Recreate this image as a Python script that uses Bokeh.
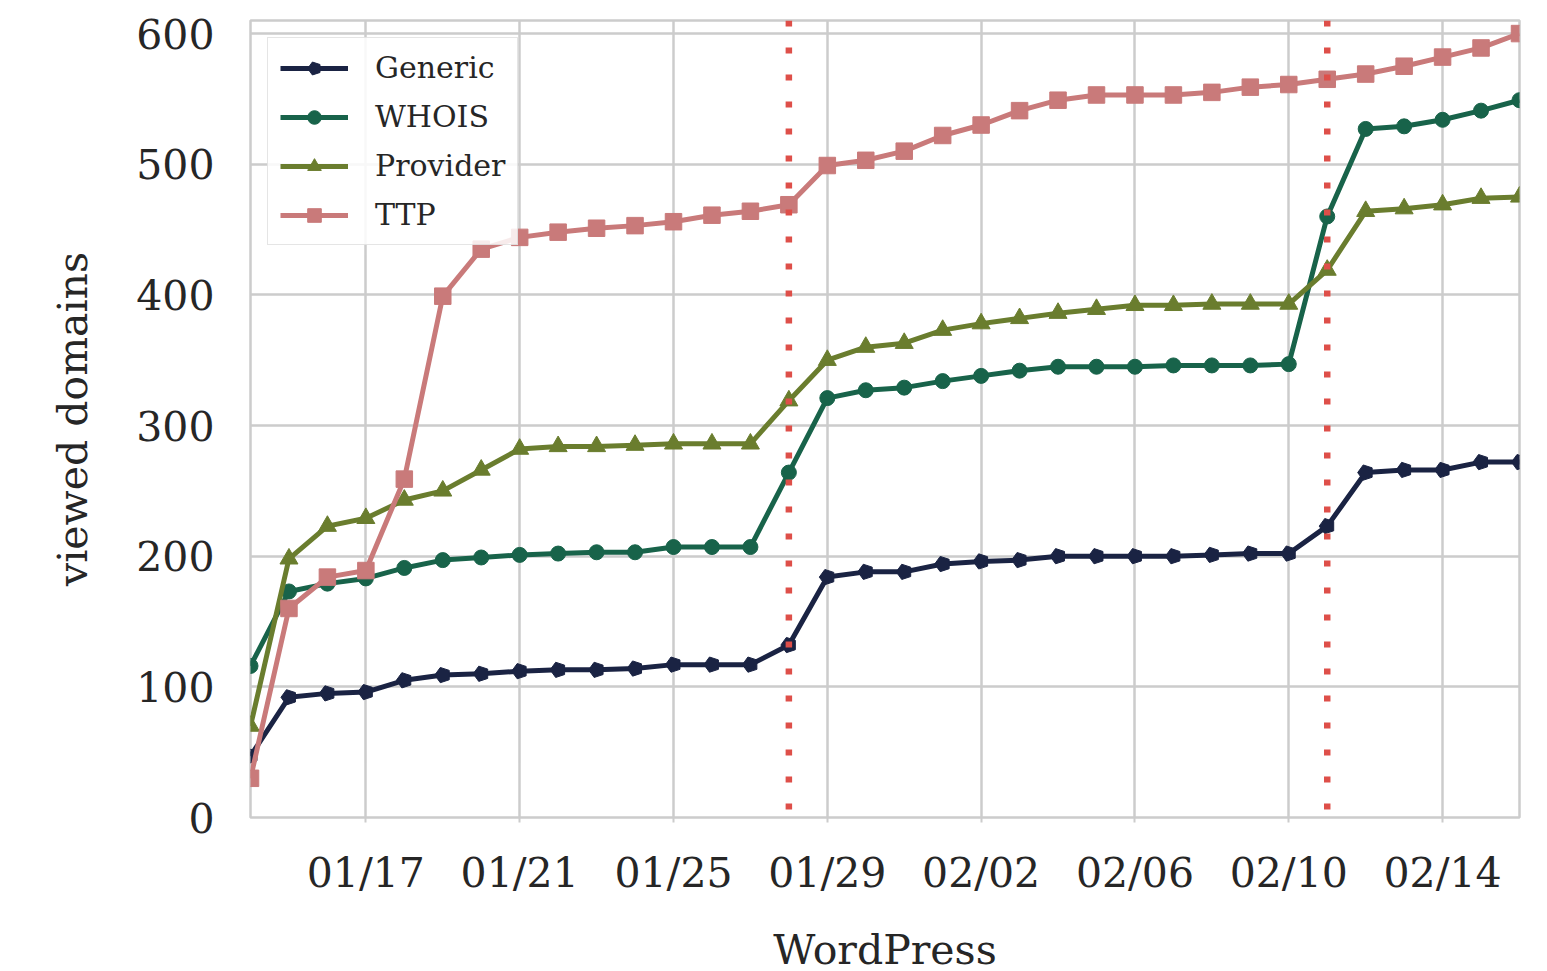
import pandas as pd
from bokeh.plotting import figure
from bokeh.models import Span, Legend, LegendItem, FixedTicker, DatetimeTickFormatter, Range1d, ColumnDataSource
from bokeh.embed import file_html
from bokeh.resources import INLINE

# ---- data ----
dates = pd.date_range("2019-01-14", "2019-02-16", freq="D")
generic = [47, 92, 95, 96, 105, 109, 110, 112, 113, 113, 114, 117, 117, 117, 132, 184, 188,
           188, 194, 196, 197, 200, 200, 200, 200, 201, 202, 202, 223, 264, 266, 266, 272, 272]
whois = [116, 173, 179, 183, 191, 197, 199, 201, 202, 203, 203, 207, 207, 207, 264, 321, 327,
         329, 334, 338, 342, 345, 345, 345, 346, 346, 346, 347, 460, 527, 529, 534, 541, 549]
provider = [70, 198, 223, 229, 243, 250, 266, 282, 284, 284, 285, 286, 286, 286, 319, 350, 360,
            363, 373, 378, 382, 386, 389, 392, 392, 393, 393, 393, 419, 464, 466, 469, 474, 475]
ttp = [30, 160, 184, 189, 259, 399, 435, 444, 448, 451, 453, 456, 461, 464, 469, 499, 503,
       510, 522, 530, 541, 549, 553, 553, 553, 555, 559, 561, 565, 569, 575, 582, 589, 600]
tick_dates = ["2019-01-17", "2019-01-21", "2019-01-25", "2019-01-29",
              "2019-02-02", "2019-02-06", "2019-02-10", "2019-02-14"]
tick_labels = ["01/17", "01/21", "01/25", "01/29", "02/02", "02/06", "02/10", "02/14"]
event_dates = ["2019-01-28", "2019-02-11"]
y_ticks = [0, 100, 200, 300, 400, 500, 600]

FONT = "DejaVu Serif"
TXT = "#262626"
GRID = "#cccccc"

def to_ms(d):
    return (pd.Timestamp(d) - pd.Timestamp("1970-01-01")) // pd.Timedelta("1ms")

p = figure(frame_width=1269, frame_height=797, x_axis_type="datetime",
           x_range=Range1d(dates[0], dates[-1]), y_range=Range1d(0, 610),
           output_backend="svg", toolbar_location=None,
           min_border_left=250, min_border_right=20, min_border_top=20, min_border_bottom=150,
           background_fill_color="white", border_fill_color="white")

p.outline_line_color = GRID
p.outline_line_width = 2.5

src = ColumnDataSource(dict(x=dates, generic=generic, whois=whois, provider=provider, ttp=ttp))

series = [
    ("Generic", "generic", "#1a2343", "pentagon", 0),
    ("WHOIS", "whois", "#18634a", "circle", 15),
    ("Provider", "provider", "#6a7d2e", "triangle", 18),
    ("TTP", "ttp", "#c97a7a", "square", 16.5),
]
items = []
for label, col, color, marker, msize in series:
    lr = p.line("x", col, source=src, line_color=color, line_width=5, line_join="round")
    if marker == "pentagon":
        mr = p.ngon(x="x", y=col, source=src, radius=8, radius_units="screen", n=5,
                    angle=1.5708, fill_color=color, line_color=color)
    else:
        mr = p.scatter("x", col, source=src, marker=marker, size=msize,
                       fill_color=color, line_color=color)
    items.append(LegendItem(label=label, renderers=[lr, mr]))

for d in event_dates:
    p.add_layout(Span(location=to_ms(d), dimension="height", line_color="#de4f49",
                      line_width=6.5, line_dash="6 21"))

legend = Legend(items=items, location="top_left", margin=17, padding=12, spacing=14,
                glyph_width=68, glyph_height=34, label_height=34, label_standoff=27,
                label_text_font=FONT, label_text_font_size="30px", label_text_color=TXT,
                border_line_color=GRID, border_line_width=1.5,
                background_fill_color="white", background_fill_alpha=0.85)
p.add_layout(legend)

# axes
p.xaxis.ticker = FixedTicker(ticks=[to_ms(d) for d in tick_dates])
p.xaxis.formatter = DatetimeTickFormatter(days="%m/%d", months="%m/%d", hours="%m/%d")
p.yaxis.ticker = FixedTicker(ticks=y_ticks)
for ax in (p.xaxis, p.yaxis):
    ax.axis_line_color = None
    ax.major_tick_line_color = GRID
    ax.major_tick_line_width = 2
    ax.minor_tick_line_color = None
    ax.major_tick_in = 0
    ax.major_label_text_font = FONT
    ax.major_label_text_font_size = "41px"
    ax.major_label_text_color = TXT
    ax.axis_label_text_font = FONT
    ax.axis_label_text_font_size = "41px"
    ax.axis_label_text_font_style = "normal"
    ax.axis_label_text_color = TXT
p.xaxis.major_tick_out = 5
p.yaxis.major_tick_out = 0
p.xaxis.major_label_standoff = 26
p.yaxis.major_label_standoff = 36
p.xaxis.axis_label = "WordPress"
p.yaxis.axis_label = "viewed domains"
p.xaxis.axis_label_standoff = 26
p.yaxis.axis_label_standoff = 36

p.xgrid.grid_line_color = GRID
p.ygrid.grid_line_color = GRID
p.xgrid.grid_line_width = 2.5
p.ygrid.grid_line_width = 2.5

open("out.html", "w").write(file_html(p, INLINE))
